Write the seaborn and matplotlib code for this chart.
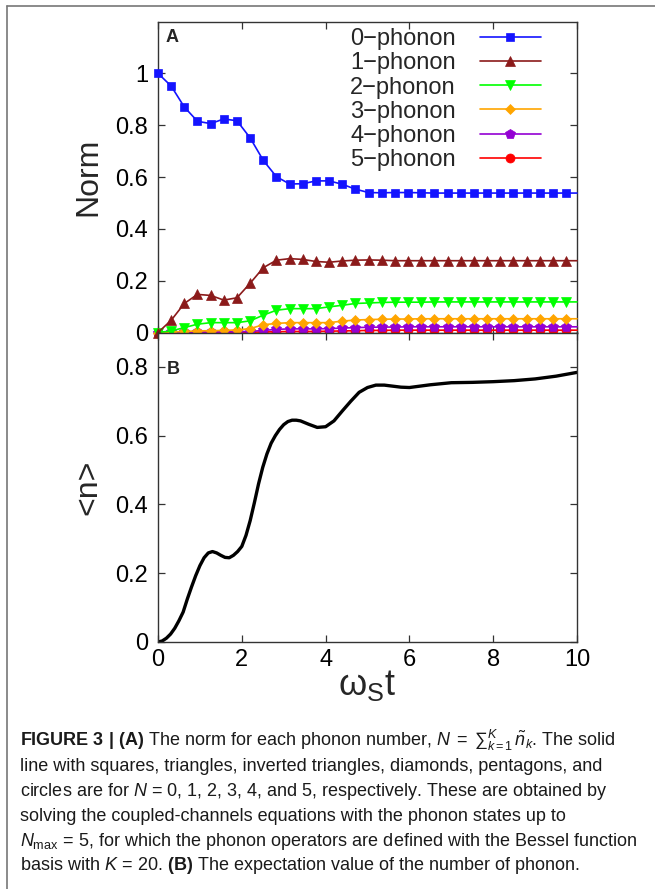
import numpy as np
import seaborn as sns
import matplotlib.pyplot as plt
from matplotlib import font_manager
from matplotlib.lines import Line2D

# time grid of the norm curves (markers every pi/10, last point only carries the line to the edge)
t_norm = [0.000, 0.314, 0.628, 0.942, 1.257, 1.571, 1.885, 2.199, 2.513, 2.827,
          3.142, 3.456, 3.770, 4.084, 4.398, 4.712, 5.027, 5.341, 5.655, 5.969,
          6.283, 6.597, 6.912, 7.226, 7.540, 7.854, 8.168, 8.482, 8.796, 9.111,
          9.425, 9.739, 10.000]

norm0 = [1.000, 0.951, 0.870, 0.815, 0.806, 0.824, 0.817, 0.751, 0.664, 0.601,
         0.573, 0.574, 0.585, 0.585, 0.572, 0.553, 0.540, 0.539, 0.540, 0.540,
         0.539, 0.538, 0.538, 0.538, 0.538, 0.538, 0.538, 0.538, 0.538, 0.538,
         0.538, 0.538, 0.538]
norm1 = [0.000, 0.047, 0.112, 0.147, 0.143, 0.125, 0.134, 0.190, 0.250, 0.279,
         0.285, 0.282, 0.274, 0.271, 0.276, 0.279, 0.280, 0.279, 0.277, 0.277,
         0.277, 0.277, 0.277, 0.277, 0.277, 0.277, 0.277, 0.277, 0.277, 0.277,
         0.277, 0.277, 0.277]
norm2 = [0.000, 0.006, 0.019, 0.032, 0.038, 0.038, 0.038, 0.045, 0.067, 0.086,
         0.092, 0.092, 0.092, 0.099, 0.105, 0.112, 0.114, 0.116, 0.117, 0.117,
         0.117, 0.118, 0.118, 0.118, 0.118, 0.118, 0.118, 0.118, 0.118, 0.118,
         0.118, 0.118, 0.118]
norm3 = [0.000, 0.002, 0.004, 0.006, 0.007, 0.008, 0.010, 0.015, 0.030, 0.035,
         0.038, 0.038, 0.038, 0.038, 0.044, 0.048, 0.050, 0.051, 0.052, 0.052,
         0.053, 0.053, 0.053, 0.053, 0.053, 0.053, 0.053, 0.053, 0.053, 0.053,
         0.053, 0.053, 0.053]
norm4 = [0.000, 0.001, 0.001, 0.002, 0.002, 0.002, 0.003, 0.004, 0.008, 0.012,
         0.014, 0.014, 0.014, 0.015, 0.017, 0.019, 0.020, 0.021, 0.021, 0.022,
         0.022, 0.022, 0.022, 0.022, 0.022, 0.022, 0.022, 0.022, 0.022, 0.022,
         0.022, 0.022, 0.022]
norm5 = [0.000, 0.000, 0.000, 0.000, 0.000, 0.001, 0.001, 0.001, 0.002, 0.003,
         0.004, 0.004, 0.004, 0.005, 0.006, 0.007, 0.008, 0.008, 0.009, 0.009,
         0.009, 0.009, 0.009, 0.009, 0.009, 0.009, 0.009, 0.009, 0.009, 0.009,
         0.009, 0.009, 0.009]

labels = ['0\u2212phonon', '1\u2212phonon', '2\u2212phonon',
          '3\u2212phonon', '4\u2212phonon', '5\u2212phonon']
colors = ['#1414ff', '#8b1a1a', '#00ff00', '#ffa500', '#9400d3', '#ff0000']
markers = ['s', '^', 'v', 'D', 'p', 'o']
msizes = [6.0, 7.0, 7.0, 5.2, 7.0, 6.5]

# expectation value of the phonon number (panel B)
t_n = [0.0, 0.1, 0.2, 0.3, 0.4, 0.5, 0.6, 0.7, 0.8, 0.9, 1.0, 1.1, 1.2, 1.3,
       1.4, 1.5, 1.6, 1.7, 1.8, 1.9, 2.0, 2.1, 2.2, 2.3, 2.4, 2.5, 2.6, 2.7,
       2.8, 2.9, 3.0, 3.1, 3.2, 3.3, 3.4, 3.5, 3.6, 3.8, 4.0, 4.2, 4.4, 4.6,
       4.8, 5.0, 5.2, 5.4, 5.6, 5.8, 6.0, 6.5, 7.0, 7.5, 8.0, 8.5, 9.0, 9.5, 10.0]
n_mean = [0.000, 0.003, 0.011, 0.023, 0.040, 0.062, 0.087, 0.125, 0.160, 0.193,
          0.222, 0.245, 0.259, 0.263, 0.259, 0.252, 0.246, 0.245, 0.252, 0.263,
          0.278, 0.310, 0.353, 0.405, 0.460, 0.508, 0.547, 0.578, 0.600, 0.618,
          0.632, 0.641, 0.645, 0.645, 0.643, 0.638, 0.633, 0.624, 0.626, 0.643,
          0.672, 0.700, 0.726, 0.740, 0.747, 0.747, 0.744, 0.741, 0.740, 0.748,
          0.754, 0.755, 0.757, 0.760, 0.765, 0.773, 0.784]

caption = [
    r'$\mathbf{FIGURE\ 3\ |\ (A)}$ The norm for each phonon number, $N\;=\;{\sum}_{k=1}^{K}\,\tilde{n}_k$. The solid',
    'line with squares, triangles, inverted triangles, diamonds, pentagons, and',
    r'circles are for $N$ = 0, 1, 2, 3, 4, and 5, respectively. These are obtained by',
    'solving the coupled-channels equations with the phonon states up to',
    r'$N_{\mathrm{max}}\,=\,5$, for which the phonon operators are defined with the Bessel function',
    r'basis with $K\,=\,20$. $\mathbf{(B)}$ The expectation value of the number of phonon.',
]

sns.set_theme(style='ticks')
names = {f.name for f in font_manager.fontManager.ttflist}
cap_font = 'Liberation Sans Narrow' if 'Liberation Sans Narrow' in names else 'Liberation Sans'
plt.rcParams['font.family'] = ['Liberation Sans', 'DejaVu Sans']
plt.rcParams['mathtext.fontset'] = 'custom'
plt.rcParams['mathtext.rm'] = 'Liberation Sans'
plt.rcParams['mathtext.it'] = cap_font + ':italic'
plt.rcParams['mathtext.bf'] = cap_font + ':bold'

W, H = 655, 889
fig = plt.figure(figsize=(W / 100, H / 100), dpi=100)
axA = fig.add_axes([158 / W, 1 - 332.5 / H, 419 / W, 311 / H])
axB = fig.add_axes([158 / W, 1 - 642 / H, 419 / W, 309.5 / H])

series = [norm0, norm1, norm2, norm3, norm4, norm5]
for i in range(6):
    sns.lineplot(x=t_norm, y=series[i], ax=axA, color=colors[i], marker=markers[i],
                 markersize=msizes[i], markeredgecolor=colors[i], markeredgewidth=0.5,
                 markevery=list(range(32)), linewidth=1.2, label=labels[i],
                 clip_on=False, zorder=3 + (5 - i))

sns.lineplot(x=t_n, y=n_mean, ax=axB, color='black', linewidth=2.4)

for ax in (axA, axB):
    ax.set_xlim(0, 10)
    ax.set_xticks([0, 2, 4, 6, 8, 10])
    ax.tick_params(direction='in', top=True, right=True, length=5, width=0.9,
                   colors='#333333', labelcolor='black', labelsize=17)
    ax.tick_params(axis='y', pad=7)
    ax.tick_params(axis='x', pad=5)
    for s in ax.spines.values():
        s.set_color('#333333')
        s.set_linewidth(1.0)
    ax.set_xlabel('')
    ax.set_ylabel('')

axA.set_ylim(0, 1.2)
axA.set_yticks([0, 0.2, 0.4, 0.6, 0.8, 1.0])
axA.set_yticklabels(['0', '0.2', '0.4', '0.6', '0.8', '1'])
axA.tick_params(labelbottom=False)
axA.set_ylabel('Norm', fontsize=23)
axA.yaxis.set_label_coords(-0.13, 0.5)

axB.set_ylim(0, 0.9)
axB.set_yticks([0, 0.2, 0.4, 0.6, 0.8])
axB.set_yticklabels(['0', '0.2', '0.4', '0.6', '0.8'])
axB.set_xticklabels(['0', '2', '4', '6', '8', '10'])
axB.set_ylabel('<n>', fontsize=23)
axB.yaxis.set_label_coords(-0.13, 0.5)
axB.set_xlabel('ω$_{\\mathregular{S}}$t', fontsize=26)
axB.xaxis.set_label_coords(0.5, -0.085)

axA.text(0.017, 0.934, 'A', transform=axA.transAxes, fontsize=13, fontweight='bold',
         va='baseline', ha='left')
axB.text(0.021, 0.866, 'B', transform=axB.transAxes, fontsize=13, fontweight='bold',
         va='baseline', ha='left')

axA.legend(loc='upper right', bbox_to_anchor=(0.914, 0.978), frameon=False,
           markerfirst=False, fontsize=17, handlelength=2.6, handletextpad=1.0,
           labelspacing=0.09, borderpad=0, borderaxespad=0)

# caption
for j, line in enumerate(caption):
    fig.text(20 / W, 1 - (746 + j * 24.9) / H, line, fontsize=13,
             family=[cap_font, 'DejaVu Sans'], color='#1a1a1a', va='baseline', ha='left')

# outer frame (page box)
fig.add_artist(Line2D([7 / W, 1.0], [1 - 6 / H, 1 - 6 / H], transform=fig.transFigure,
                      color='#777777', linewidth=1.2))
fig.add_artist(Line2D([7 / W, 7 / W], [1 - 6 / H, 0.0], transform=fig.transFigure,
                      color='#777777', linewidth=1.2))

fig.savefig('out.png', dpi=100)
